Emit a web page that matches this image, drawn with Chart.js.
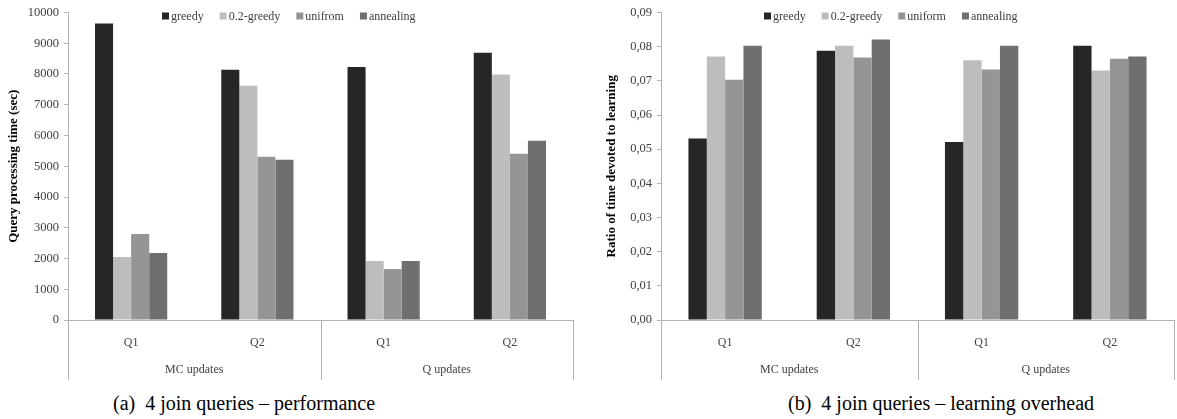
<!DOCTYPE html>
<html>
<head>
<meta charset="utf-8">
<script src="https://cdn.jsdelivr.net/npm/chart.js@4.4.1/dist/chart.umd.min.js"></script>
<style>
  body { margin: 0; background: #fff; width: 1177px; height: 419px; position: relative; overflow: hidden; }
  .box { position: absolute; top: 0; height: 385px; }
  .caption { position: absolute; top: 392px; font: 20px "Liberation Serif", serif; color: #000; white-space: nowrap; }
</style>
</head>
<body>
<div class="box" style="left:0;width:588px"><canvas id="perfChart"></canvas></div>
<div class="box" style="left:588px;width:589px"><canvas id="ratioChart"></canvas></div>
<div class="caption" style="left:113px">(a)&nbsp; 4 join queries – performance</div>
<div class="caption" style="left:788px">(b)&nbsp; 4 join queries – learning overhead</div>
<script>
// categories
const queries = ['Q1', 'Q2', 'Q1', 'Q2'];
const updateGroups = ['MC updates', 'Q updates'];

// (a) query processing time (sec)
const perfLabels = ['greedy', '0.2-greedy', 'unifrom', 'annealing'];
const perfGreedy = [9640, 8140, 8230, 8690];
const perfEps = [2050, 7620, 1920, 7980];
const perfUniform = [2800, 5310, 1660, 5410];
const perfAnnealing = [2180, 5210, 1920, 5830];

// (b) ratio of time devoted to learning
const ratioLabels = ['greedy', '0.2-greedy', 'uniform', 'annealing'];
const ratioGreedy = [0.0531, 0.0788, 0.0521, 0.0803];
const ratioEps = [0.0771, 0.0803, 0.0760, 0.0730];
const ratioUniform = [0.0703, 0.0768, 0.0733, 0.0765];
const ratioAnnealing = [0.0803, 0.0821, 0.0803, 0.0771];

const barColors = ['#262626', '#bdbdbd', '#959595', '#6f6f6f'];
const axisColor = '#b3b3b3';
const textColor = '#404040';
const serif = '"Liberation Serif", "Times New Roman", serif';

// draws the second level of the category axis (dividers + group names)
const groupAxis = {
  id: 'groupAxis',
  afterDraw(chart) {
    const { ctx, chartArea, scales } = chart;
    const x = scales.x;
    const top = chartArea.bottom;
    const bottom = top + 60;
    const mid = (x.getPixelForValue(1) + x.getPixelForValue(2)) / 2;
    ctx.save();
    ctx.strokeStyle = axisColor;
    ctx.lineWidth = 1;
    [chartArea.left, mid, chartArea.right].forEach(px => {
      const p = Math.round(px) + 0.5;
      ctx.beginPath();
      ctx.moveTo(p, top);
      ctx.lineTo(p, bottom);
      ctx.stroke();
    });
    ctx.fillStyle = textColor;
    ctx.font = '12px ' + serif;
    ctx.textAlign = 'center';
    ctx.textBaseline = 'middle';
    updateGroups.forEach((g, i) => {
      const cx = (x.getPixelForValue(i * 2) + x.getPixelForValue(i * 2 + 1)) / 2;
      ctx.fillText(g, cx, top + 50);
    });
    ctx.restore();
  }
};

// small legend row in the top of the plot, like the original
const topLegend = {
  id: 'topLegend',
  afterDraw(chart, args, opts) {
    const { ctx } = chart;
    ctx.save();
    ctx.font = '12px ' + serif;
    ctx.textBaseline = 'middle';
    let px = opts.startX;
    const y = opts.y;
    chart.data.datasets.forEach(ds => {
      ctx.fillStyle = ds.backgroundColor;
      ctx.fillRect(px, y - 3.5, 7, 7);
      ctx.fillStyle = textColor;
      ctx.fillText(ds.label, px + 9, y + 0.5);
      px += 9 + ctx.measureText(ds.label).width + 16;
    });
    ctx.restore();
  }
};

function makeChart(id, labels, series, opts) {
  const datasets = series.map((data, i) => ({
    label: labels[i],
    data: data,
    backgroundColor: barColors[i],
    borderWidth: 0,
    categoryPercentage: 0.572,
    barPercentage: 1
  }));

  return new Chart(document.getElementById(id), {
    type: 'bar',
    data: { labels: queries, datasets: datasets },
    plugins: [groupAxis, topLegend],
    options: {
      responsive: true,
      maintainAspectRatio: false,
      animation: false,
      layout: { padding: { top: opts.padTop, right: opts.padRight, left: 0, bottom: 0 } },
      plugins: {
        legend: { display: false },
        tooltip: { enabled: false },
        topLegend: { startX: opts.legendX, y: 16 }
      },
      scales: {
        x: {
          grid: { display: false },
          border: { display: true, color: axisColor },
          ticks: { color: textColor, font: { family: serif, size: 12 }, padding: 8 },
          afterFit: scale => { scale.height = 65; }
        },
        y: {
          min: 0,
          max: opts.max,
          ticks: {
            stepSize: opts.step,
            color: textColor,
            padding: 5,
            font: { family: serif, size: 12.5 },
            callback: opts.format
          },
          grid: { drawOnChartArea: false, tickLength: 4, color: axisColor },
          border: { display: true, color: axisColor },
          title: {
            display: true,
            text: opts.title,
            color: '#000',
            font: { family: serif, size: 13, weight: 'bold' },
            padding: { top: opts.titlePad, bottom: 0 }
          },
          afterFit: scale => { scale.width = opts.axisX; }
        }
      }
    }
  });
}

makeChart('perfChart', perfLabels, [perfGreedy, perfEps, perfUniform, perfAnnealing], {
  max: 10000, step: 1000,
  format: v => String(v),
  title: 'Query processing time (sec)',
  axisX: 68, padTop: 8, padRight: 15, titlePad: 6, legendX: 162
});

makeChart('ratioChart', ratioLabels, [ratioGreedy, ratioEps, ratioUniform, ratioAnnealing], {
  max: 0.09, step: 0.01,
  format: v => v.toFixed(2).replace('.', ','),
  title: 'Ratio of time devoted to learning',
  axisX: 73, padTop: 8, padRight: 3, titlePad: 16, legendX: 176
});
</script>
</body>
</html>
